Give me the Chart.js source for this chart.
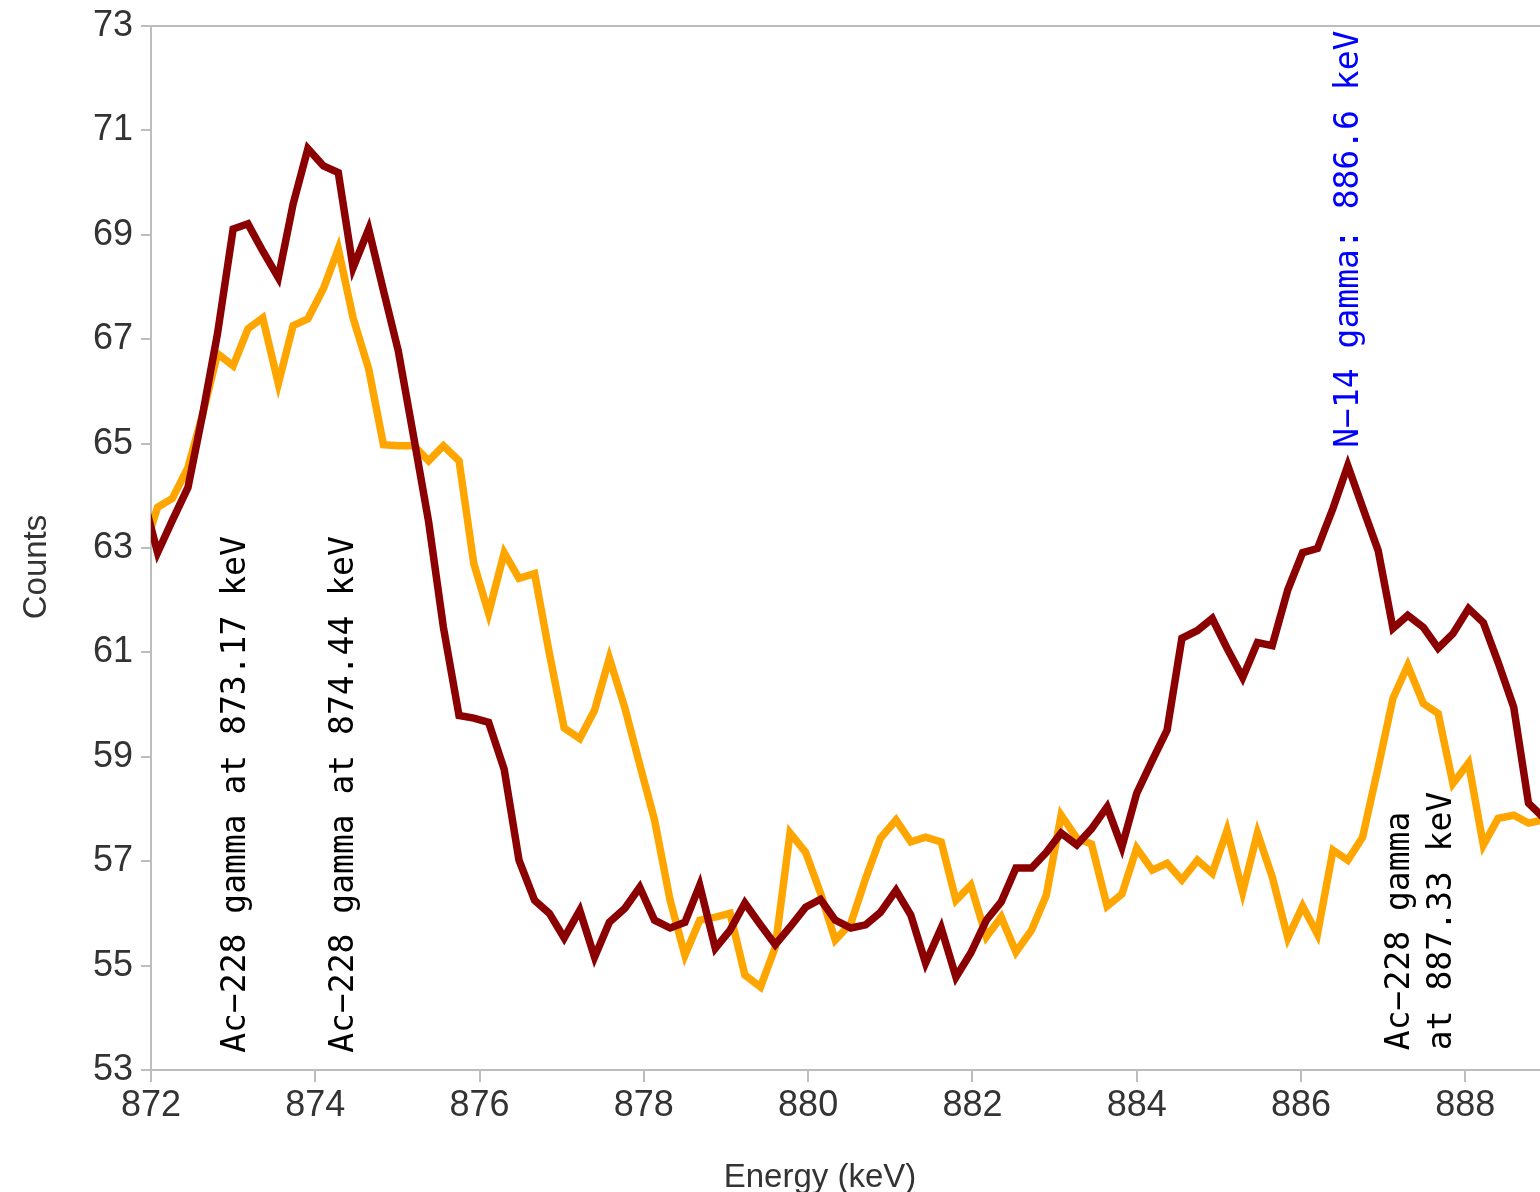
<!DOCTYPE html>
<html>
<head>
<meta charset="utf-8">
<script src="https://cdn.jsdelivr.net/npm/chart.js@4.4.0/dist/chart.umd.min.js"></script>
<style>
  html, body { margin: 0; padding: 0; background: #fff; }
  #wrap { width: 1540px; height: 1192px; }
</style>
</head>
<body>
<div id="wrap"><canvas id="spectrum" width="1540" height="1192"></canvas></div>
<script>
// channel energies (keV)
const energies = [
  871.90, 872.08, 872.26, 872.45, 872.63, 872.81, 873.00, 873.18, 873.36, 873.55,
  873.73, 873.91, 874.10, 874.28, 874.46, 874.65, 874.83, 875.01, 875.20, 875.38,
  875.56, 875.75, 875.93, 876.11, 876.30, 876.48, 876.67, 876.85, 877.03, 877.22,
  877.40, 877.58, 877.77, 877.95, 878.13, 878.32, 878.50, 878.68, 878.87, 879.05,
  879.23, 879.42, 879.60, 879.78, 879.97, 880.15, 880.33, 880.52, 880.70, 880.88,
  881.07, 881.25, 881.43, 881.62, 881.80, 881.98, 882.17, 882.35, 882.53, 882.72,
  882.90, 883.08, 883.27, 883.45, 883.64, 883.82, 884.00, 884.19, 884.37, 884.55,
  884.74, 884.92, 885.10, 885.29, 885.47, 885.65, 885.84, 886.02, 886.20, 886.39,
  886.57, 886.75, 886.94, 887.12, 887.30, 887.49, 887.67, 887.85, 888.04, 888.22,
  888.40, 888.59, 888.77, 888.95
];

// dark red spectrum
const countsRed = [
  64.00, 62.91, 63.53, 64.16, 65.57, 67.11, 69.11, 69.21, 68.69, 68.18,
  69.59, 70.65, 70.32, 70.19, 68.37, 69.11, 67.93, 66.78, 65.11, 63.50,
  61.48, 59.79, 59.74, 59.66, 58.76, 57.02, 56.25, 56.00, 55.53, 56.06,
  55.16, 55.83, 56.10, 56.50, 55.87, 55.72, 55.83, 56.54, 55.33, 55.68,
  56.20, 55.78, 55.40, 55.74, 56.12, 56.27, 55.87, 55.72, 55.78, 56.02,
  56.44, 55.97, 55.05, 55.72, 54.78, 55.24, 55.87, 56.22, 56.87, 56.87,
  57.17, 57.54, 57.31, 57.62, 58.04, 57.27, 58.30, 58.93, 59.51, 61.27,
  61.42, 61.65, 61.08, 60.52, 61.19, 61.13, 62.20, 62.91, 62.99, 63.76,
  64.58, 63.78, 62.95, 61.46, 61.71, 61.48, 61.08, 61.36, 61.84, 61.57,
  60.81, 59.95, 58.11, 57.84
];

// orange spectrum
const countsOrange = [
  62.90, 63.78, 63.95, 64.54, 65.57, 66.72, 66.49, 67.20, 67.41, 66.15,
  67.26, 67.39, 67.97, 68.73, 67.41, 66.43, 64.98, 64.96, 64.96, 64.67,
  64.96, 64.67, 62.70, 61.75, 62.91, 62.42, 62.51, 60.98, 59.55, 59.35,
  59.89, 60.89, 59.93, 58.85, 57.79, 56.25, 55.20, 55.87, 55.93, 56.00,
  54.82, 54.59, 55.35, 57.54, 57.17, 56.39, 55.49, 55.81, 56.67, 57.44,
  57.79, 57.37, 57.46, 57.37, 56.25, 56.54, 55.55, 55.93, 55.26, 55.68,
  56.35, 57.88, 57.44, 57.33, 56.14, 56.37, 57.25, 56.83, 56.96, 56.64,
  57.02, 56.77, 57.59, 56.41, 57.54, 56.70, 55.53, 56.14, 55.60, 57.21,
  57.02, 57.46, 58.80, 60.12, 60.75, 60.02, 59.83, 58.49, 58.88, 57.31,
  57.82, 57.88, 57.73, 57.79
];

const xTicks = [872, 874, 876, 878, 880, 882, 884, 886, 888];
const yTicks = [53, 55, 57, 59, 61, 63, 65, 67, 69, 71, 73];

// peak labels, anchored at the start of the text (energy, counts)
const peakNotes = [
  { lines: ["Ac\u2212228 gamma at 873.17 keV"], x: 873.15, y: 53.33, color: "#000000" },
  { lines: ["Ac\u2212228 gamma at 874.44 keV"], x: 874.46, y: 53.33, color: "#000000" },
  { lines: ["Ac\u2212228 gamma", "at 887.33 keV"], x: 887.32, y: 53.38, color: "#000000" },
  { lines: ["N\u221214 gamma: 886.6 keV"], x: 886.7, y: 64.92, color: "#0000ff" }
];

const axisGray = "#bdbdbd";
const textGray = "#333333";
const sansFont = "'Liberation Sans', Arial, sans-serif";
const monoFont = "'DejaVu Sans Mono', 'Liberation Mono', monospace";

const toPoints = ys => energies.map((e, i) => ({ x: e, y: ys[i] }));

// frame top line, axis titles and peak labels
const decorations = {
  id: "decorations",
  afterDatasetsDraw(chart) {
    const { ctx, chartArea, scales } = chart;
    ctx.save();
    ctx.strokeStyle = axisGray;
    ctx.lineWidth = 2;
    ctx.beginPath();
    ctx.moveTo(chartArea.left, chartArea.top);
    ctx.lineTo(chartArea.right, chartArea.top);
    ctx.stroke();

    ctx.font = "33px " + monoFont;
    ctx.textAlign = "left";
    ctx.textBaseline = "alphabetic";
    peakNotes.forEach(n => {
      const px = scales.x.getPixelForValue(n.x);
      const py = scales.y.getPixelForValue(n.y);
      ctx.save();
      ctx.translate(px, py);
      ctx.rotate(-Math.PI / 2);
      ctx.fillStyle = n.color;
      n.lines.forEach((t, k) => ctx.fillText(t, 0, k * 42));
      ctx.restore();
    });

    ctx.fillStyle = textGray;
    ctx.font = "33px " + sansFont;
    ctx.textAlign = "center";
    ctx.fillText("Energy (keV)", 820, 1187);
    ctx.save();
    ctx.translate(46, 567);
    ctx.rotate(-Math.PI / 2);
    ctx.fillText("Counts", 0, 0);
    ctx.restore();
    ctx.restore();
  }
};

new Chart(document.getElementById("spectrum"), {
  type: "line",
  data: {
    datasets: [
      {
        data: toPoints(countsRed),
        borderColor: "#8b0000",
        borderWidth: 7.5,
        clip: 0
      },
      {
        data: toPoints(countsOrange),
        borderColor: "#ffa500",
        borderWidth: 7.5,
        clip: 0
      }
    ]
  },
  options: {
    responsive: false,
    animation: false,
    devicePixelRatio: 1,
    layout: { padding: { top: 25, right: 0, bottom: 0, left: 0 } },
    elements: {
      point: { radius: 0, hoverRadius: 0 },
      line: { tension: 0, fill: false }
    },
    plugins: { legend: { display: false }, tooltip: { enabled: false } },
    scales: {
      x: {
        type: "linear",
        min: 872,
        max: 888.91,
        afterBuildTicks: s => { s.ticks = xTicks.map(v => ({ value: v })); },
        afterFit: s => { s.height = 122; },
        grid: { drawOnChartArea: false, tickLength: 12, color: axisGray, lineWidth: 2 },
        border: { color: axisGray, width: 2 },
        ticks: { color: textGray, font: { family: sansFont, size: 36 }, padding: 2, maxRotation: 0 }
      },
      y: {
        min: 53,
        max: 73,
        afterBuildTicks: s => { s.ticks = yTicks.map(v => ({ value: v })); },
        afterFit: s => { s.width = 151; },
        grid: { drawOnChartArea: false, tickLength: 10, color: axisGray, lineWidth: 2 },
        border: { color: axisGray, width: 2 },
        ticks: { color: textGray, font: { family: sansFont, size: 36, lineHeight: 1 }, padding: 8 }
      }
    }
  },
  plugins: [decorations]
});
</script>
</body>
</html>
